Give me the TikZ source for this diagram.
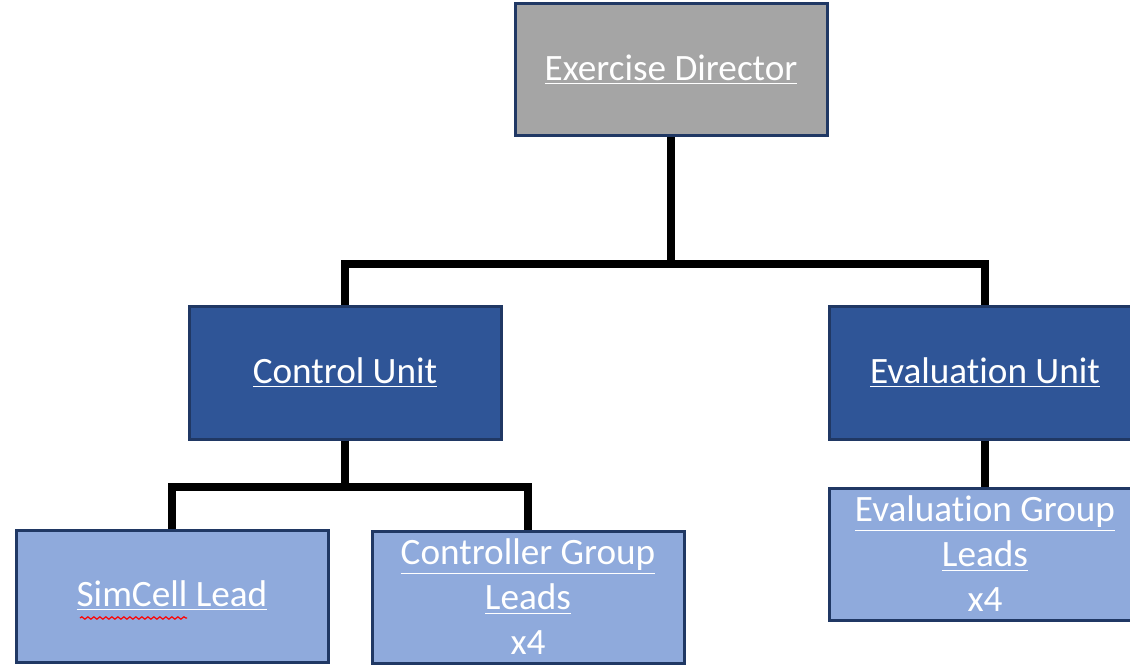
\documentclass[tikz,border=0pt]{standalone}
\usepackage{fontspec}
\setmainfont[Ligatures=NoCommon]{Carlito}
\usepackage{xcolor}
\definecolor{orgnavy}{RGB}{32,56,100}
\definecolor{orggray}{RGB}{165,165,165}
\definecolor{orgblue}{RGB}{47,85,151}
\definecolor{orglight}{RGB}{143,170,220}
\usetikzlibrary{positioning,decorations.pathmorphing}

\begin{document}
\begin{tikzpicture}[
    x=0.5pt, y=-0.5pt,
    unit/.style={rectangle, draw=orgnavy, line width=1.5pt, minimum width=156pt, minimum height=66pt, inner sep=0pt, align=center, text=white, font=\fontsize{18.6}{22.5}\selectfont},
    topbox/.style={unit, fill=orggray},
    midbox/.style={unit, fill=orgblue},
    leadbox/.style={unit, fill=orglight},
    link/.style={black, line width=4pt}
]
\useasboundingbox (0,0) rectangle (1130,668);

% Director
\node[topbox] (director) at (671,70) {\underline{Exercise Director}};

% Units
\node[midbox] (ctrlunit) at (345,373) {\underline{Control Unit}};
\node[midbox] (evalunit) at (985,373) {\underline{Evaluation Unit}};

% Leads
\node[leadbox] (simcell) at (172,596) {\underline{SimCell Lead}};
\node[leadbox] (ctrlleads) at (528,597) {\underline{Controller Group}\\\underline{Leads}\\x4};
\node[leadbox, below=23pt of evalunit] (evalleads) {\underline{Evaluation Group}\\\underline{Leads}\\x4};

% Links
\draw[link] (director.south) -- ++(0,127) -| (ctrlunit.north);
\draw[link] (director.south) -- ++(0,127) -| (evalunit.north);
\draw[link] (ctrlunit.south) -- ++(0,46) -| (simcell.north);
\draw[link] (ctrlunit.south) -- ++(0,46) -| (ctrlleads.north);
\draw[link] (evalunit.south) -- (evalleads.north);

% spell mark
\draw[red, line width=0.6pt, decorate, decoration={snake, amplitude=0.6pt, segment length=3pt}] ([shift={(-92,22)}]simcell.center) -- ([shift={(15,22)}]simcell.center);
\end{tikzpicture}
\end{document}
